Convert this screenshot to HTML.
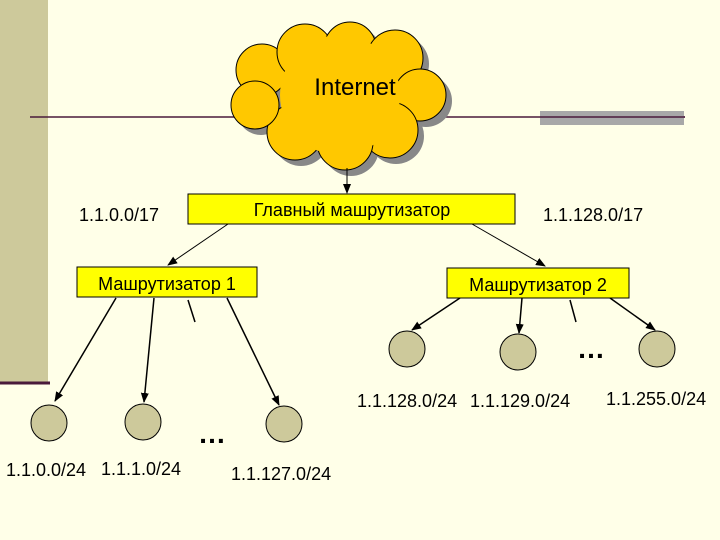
<!DOCTYPE html>
<html><head><meta charset="utf-8"><style>
html,body{margin:0;padding:0;background:#ffffe8;}
svg{display:block;font-family:"Liberation Sans",sans-serif;}
</style></head><body>
<svg width="720" height="540" viewBox="0 0 720 540">
<defs><marker id="a" markerWidth="10" markerHeight="10" refX="9" refY="5" orient="auto" markerUnits="userSpaceOnUse"><path d="M0,1 L10,5 L0,9 Z" fill="#000"/></marker></defs>
<rect width="720" height="540" fill="#ffffe8"/>
<rect x="0" y="0" width="48" height="382" fill="#cdc99b"/>
<line x1="0" y1="383" x2="50" y2="383" stroke="#4a1a3a" stroke-width="3"/>
<line x1="30" y1="117" x2="685" y2="117" stroke="#4a1a3a" stroke-width="1.5"/>
<rect x="540" y="111" width="144" height="14" fill="#a8a8a8"/>
<line x1="540" y1="117" x2="685" y2="117" stroke="#4a1a3a" stroke-width="1.5"/>
<g transform="translate(6,6)" fill="#888">
<circle cx="262" cy="70" r="26"/><circle cx="305" cy="52" r="28"/><circle cx="350" cy="48" r="26"/><circle cx="395" cy="58" r="28"/><circle cx="420" cy="95" r="26"/><circle cx="390" cy="130" r="28"/><circle cx="345" cy="142" r="28"/><circle cx="295" cy="132" r="28"/><circle cx="255" cy="105" r="24"/><circle cx="340" cy="95" r="55"/>
</g>
<g fill="#ffc800" stroke="#000" stroke-width="1">
<circle cx="262" cy="70" r="26"/><circle cx="305" cy="52" r="28"/><circle cx="350" cy="48" r="26"/><circle cx="395" cy="58" r="28"/><circle cx="420" cy="95" r="26"/><circle cx="390" cy="130" r="28"/><circle cx="345" cy="142" r="28"/><circle cx="295" cy="132" r="28"/><circle cx="255" cy="105" r="24"/>
</g>
<circle cx="340" cy="95" r="60" fill="#ffc800"/>
<text x="355" y="95" font-size="24" text-anchor="middle">Internet</text>
<line x1="347" y1="168" x2="347" y2="193" stroke="#000" marker-end="url(#a)"/>
<rect x="188" y="194" width="327" height="30" fill="#ffff00" stroke="#000"/>
<text x="352" y="216" font-size="18" text-anchor="middle">Главный машрутизатор</text>
<text x="79" y="221" font-size="18">1.1.0.0/17</text>
<text x="543" y="221" font-size="18">1.1.128.0/17</text>
<line x1="228" y1="224" x2="168" y2="265" stroke="#000" marker-end="url(#a)"/>
<line x1="472" y1="224" x2="545" y2="266" stroke="#000" marker-end="url(#a)"/>
<rect x="77" y="267" width="180" height="30" fill="#ffff00" stroke="#000"/>
<text x="167" y="290" font-size="18" text-anchor="middle">Машрутизатор 1</text>
<rect x="447" y="268" width="182" height="30" fill="#ffff00" stroke="#000"/>
<text x="538" y="291" font-size="18" text-anchor="middle">Машрутизатор 2</text>
<g stroke="#000" stroke-width="1.5">
<line x1="116" y1="298" x2="55" y2="401" marker-end="url(#a)"/>
<line x1="154" y1="298" x2="144" y2="402" marker-end="url(#a)"/>
<line x1="188" y1="300" x2="195" y2="322"/>
<line x1="227" y1="298" x2="279" y2="405" marker-end="url(#a)"/>
<line x1="460" y1="298" x2="412" y2="330" marker-end="url(#a)"/>
<line x1="522" y1="298" x2="519" y2="333" marker-end="url(#a)"/>
<line x1="570" y1="300" x2="576" y2="322"/>
<line x1="610" y1="298" x2="655" y2="330" marker-end="url(#a)"/>
</g>
<g fill="#cdc99b" stroke="#000" stroke-width="1">
<circle cx="49" cy="423" r="18"/><circle cx="143" cy="422" r="18"/><circle cx="284" cy="424" r="18"/>
<circle cx="407" cy="349" r="18"/><circle cx="518" cy="352" r="18"/><circle cx="657" cy="349" r="18"/>
</g>
<text x="198" y="443" font-size="28" font-weight="bold">…</text>
<text x="577" y="358" font-size="28" font-weight="bold">…</text>
<g font-size="18">
<text x="6" y="476">1.1.0.0/24</text><text x="101" y="475">1.1.1.0/24</text><text x="231" y="480">1.1.127.0/24</text>
<text x="357" y="407">1.1.128.0/24</text><text x="470" y="407">1.1.129.0/24</text><text x="606" y="405">1.1.255.0/24</text>
</g>
</svg>
</body></html>
